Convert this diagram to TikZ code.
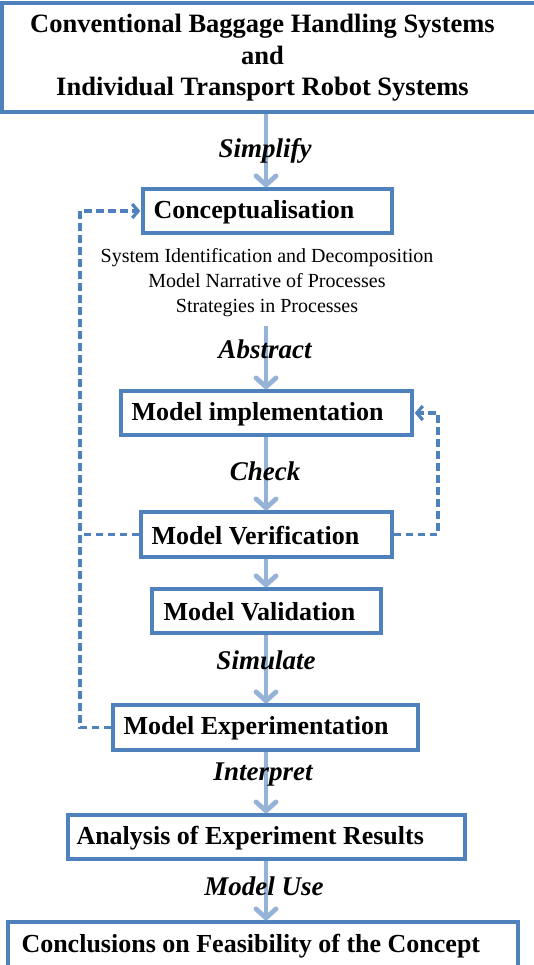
\documentclass[tikz,border=0pt]{standalone}
\usepackage{fontspec}
\setmainfont{Liberation Serif}
\usetikzlibrary{arrows.meta,calc}
\definecolor{boxblue}{HTML}{4F81BD}
\definecolor{flowblue}{HTML}{95B3D7}

\begin{document}
\begin{tikzpicture}[x=1pt,y=-1pt,
  box/.style={draw=boxblue, line width=3.4pt, inner sep=0pt, fill=white},
  boxtext/.style={anchor=west, inner sep=0pt, font=\fontsize{26}{31}\selectfont\bfseries},
  titletext/.style={inner sep=0pt, align=center, font=\fontsize{26.5}{31.5}\selectfont\bfseries},
  desctext/.style={inner sep=0pt, align=center, font=\fontsize{20}{25}\selectfont},
  verb/.style={inner sep=0pt, font=\fontsize{27}{31}\selectfont\bfseries\itshape},
  flow/.style={draw=flowblue, line width=4.8pt,
    -{Straight Barb[length=9pt,width=20pt,line cap=round,line join=round]}},
  loopline/.style={draw=boxblue, line width=3.2pt, dash pattern=on 7.5pt off 4.5pt},
  loop/.style={loopline, -{Straight Barb[length=6pt,width=14pt]}}
]
\useasboundingbox (0,0) rectangle (533,965);

% main axis of the flow and the two feedback rails
\coordinate (axis) at (266,0);
\coordinate (lx) at (80,0);
\coordinate (rx) at (438,0);

% boxes
\node[box, minimum width=543pt, minimum height=109pt] (top) at (273.5,57.5) {};
\node[box, minimum width=249pt, minimum height=44pt] (concept) at (267.5,211) {};
\node[box, minimum width=291pt, minimum height=44pt] (impl) at (266.5,413) {};
\node[box, minimum width=251pt, minimum height=45pt] (verif) at (266.5,534.5) {};
\node[box, minimum width=229pt, minimum height=44pt] (valid) at (266.5,611) {};
\node[box, minimum width=305pt, minimum height=45pt] (exper) at (265.5,727.5) {};
\node[box, minimum width=397pt, minimum height=44pt] (analysis) at (266.5,837) {};
\node[box, minimum width=510pt, minimum height=48pt] (concl) at (263,946) {};

% box texts
\node[titletext] (title) at (262.5,58)
  {Conventional Baggage Handling Systems\\and\\Individual Transport Robot Systems};
\node[boxtext] (concept-t) at ($(concept.west)+(12,1)$) {Conceptualisation};
\node[boxtext] (impl-t) at ($(impl.west)+(12,1)$) {Model implementation};
\node[boxtext] (verif-t) at ($(verif.west)+(12,1)$) {Model Verification};
\node[boxtext] (valid-t) at ($(valid.west)+(13,1)$) {Model Validation};
\node[boxtext] (exper-t) at ($(exper.west)+(12,1)$) {Model Experimentation};
\node[boxtext] (analysis-t) at ($(analysis.west)+(10,1)$) {Analysis of Experiment Results};
\node[boxtext] (concl-t) at ($(concl.west)+(15,0)$) {Conclusions on Feasibility of the Concept};

\node[desctext] (desc) at (267,283)
  {System Identification and Decomposition\\Model Narrative of Processes\\Strategies in Processes};
\coordinate (abs-start) at (266,326);

% main flow
\draw[flow] (top.south -| axis) -- (concept.north -| axis);
\draw[flow] (abs-start) -- (impl.north -| axis);
\draw[flow] (impl.south -| axis) -- (verif.north -| axis);
\draw[flow] (verif.south -| axis) -- (valid.north -| axis);
\draw[flow] (valid.south -| axis) -- (exper.north -| axis);
\draw[flow] (exper.south -| axis) -- (analysis.north -| axis);
\draw[flow] (analysis.south -| axis) -- (concl.north -| axis);

% step labels over the arrows
\node[verb] (simplify) at (265,151) {Simplify};
\node[verb] (abstract) at (265,349) {Abstract};
\node[verb] (check) at (265,471) {Check};
\node[verb] (simulate) at (266,660) {Simulate};
\node[verb] (interpret) at (263,775) {Interpret};
\node[verb] (modeluse) at (264,886) {Model Use};

% feedback loops
\draw[loop] (exper.west) -- (exper.west -| lx) -- (concept.west -| lx) -- ([xshift=-1pt]concept.west);
\draw[loopline] (verif.west) -- (verif.west -| lx);
\draw[loop] (verif.east) -- (verif.east -| rx) -- (impl.east -| rx) -- ([xshift=1pt]impl.east);
\end{tikzpicture}
\end{document}
